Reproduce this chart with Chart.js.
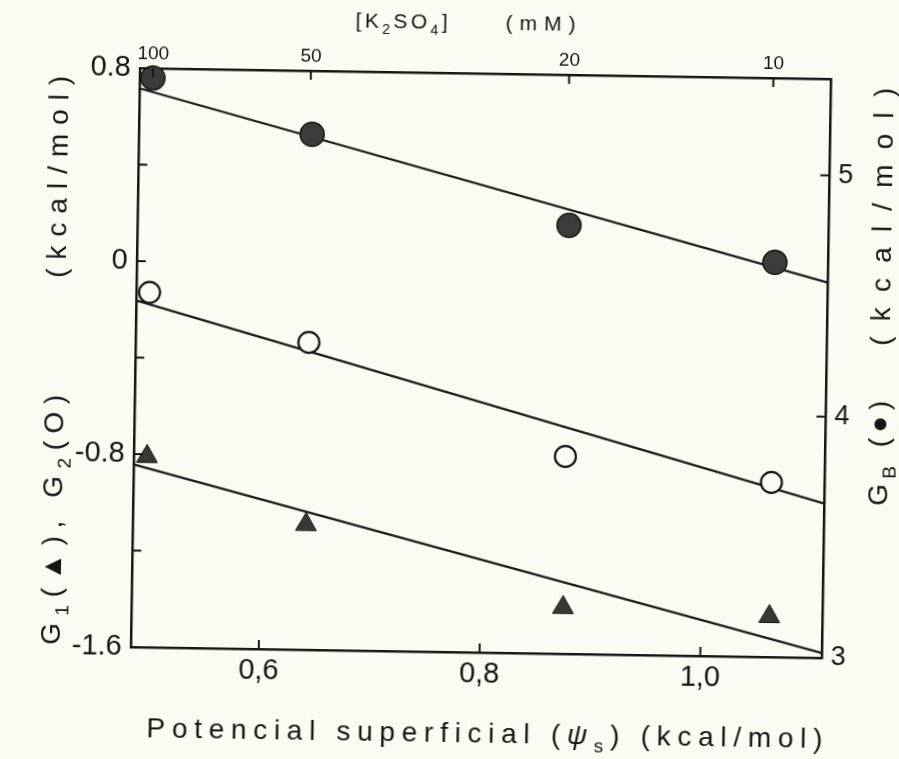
<!DOCTYPE html>
<html>
<head>
<meta charset="utf-8">
<script src="https://cdn.jsdelivr.net/npm/chart.js@4.4.1/dist/chart.umd.min.js"></script>
<style>
  html, body { margin: 0; padding: 0; background: #fbfaf3; overflow: hidden; }
  /* the printed figure sits slightly askew on the page */
  #wrap { width: 899px; height: 759px; transform: rotate(0.9deg); }
</style>
</head>
<body>
<div id="wrap"><canvas id="chart" width="899" height="759"></canvas></div>
<script>
const $ = id => document.getElementById(id);

const ink = '#161616';
const paper = '#fbfaf3';
const fontFamily = '"Liberation Sans", "DejaVu Sans", Arial, sans-serif';

// surface potential (kcal/mol) of the four K2SO4 solutions
const psi = [0.496, 0.641, 0.875, 1.062];
const gB = [5.36, 5.137, 4.776, 4.636];      // right axis, filled circles
const g2 = [-0.129, -0.326, -0.782, -0.876]; // left axis, open circles
const g1 = [-0.809, -1.081, -1.408, -1.432]; // left axis, triangles

// straight-line fits, given at both ends of the psi range
const fitPsi = [0.484, 1.11];
const gBFit = [5.316, 4.556];
const g2Fit = [-0.163, -0.960];
const g1Fit = [-0.843, -1.58];

// axes
const xMin = 0.484, xMax = 1.11;
const psiTicks = [0.6, 0.8, 1.0];
const concLabels = ['100', '50', '20', '10'];
const concPos = [0.496, 0.639, 0.873, 1.058];
const leftTicks = [0.8, 0.4, 0, -0.4, -0.8, -1.2, -1.6];
const rightTicks = [3, 4, 5];

const pts = (xs, ys) => xs.map((x, i) => ({x, y: ys[i]}));

function markers(label, data, axis, style) {
  return Object.assign({
    label, data, xAxisID: 'x', yAxisID: axis,
    showLine: false, clip: false, order: 1,
    borderColor: ink, pointBorderColor: ink
  }, style);
}

function fitLine(label, data, axis) {
  return {
    label, data, xAxisID: 'x', yAxisID: axis,
    showLine: true, pointRadius: 0, borderWidth: 2.2,
    borderColor: '#1c1c1c', clip: false, order: 2
  };
}

function setTicks(values) {
  return scale => { scale.ticks = values.map(v => ({value: v})); };
}

const tickFont = {family: fontFamily, size: 29};
const axisBorder = {display: true, color: ink, width: 2.5};

// paper colour behind everything
const paperBg = {
  id: 'paperBg',
  beforeDraw(chart) {
    const ctx = chart.ctx;
    ctx.save();
    ctx.fillStyle = paper;
    ctx.fillRect(0, 0, chart.width, chart.height);
    ctx.restore();
  }
};

// tick marks point into the plot on all four sides
const inwardTicks = {
  id: 'inwardTicks',
  afterDatasetsDraw(chart) {
    const {ctx, chartArea: a} = chart;
    const len = 9;
    ctx.save();
    ctx.strokeStyle = ink;
    ctx.lineWidth = 2;
    ['x', 'x2', 'y', 'y2'].forEach(id => {
      const s = chart.scales[id];
      s.ticks.forEach(t => {
        const p = s.getPixelForValue(t.value);
        ctx.beginPath();
        if (id === 'x') { ctx.moveTo(p, a.bottom); ctx.lineTo(p, a.bottom - len); }
        if (id === 'x2') { ctx.moveTo(p, a.top); ctx.lineTo(p, a.top + len); }
        if (id === 'y') { ctx.moveTo(a.left, p); ctx.lineTo(a.left + len, p); }
        if (id === 'y2') { ctx.moveTo(a.right, p); ctx.lineTo(a.right - len, p); }
        ctx.stroke();
      });
    });
    ctx.restore();
  }
};

// draws text runs (with subscripts) spread over a given length
function drawRuns(ctx, runs, x, y, angle, size, span) {
  const fontOf = r => (r.it ? 'italic ' : '') + Math.round(r.sub ? size * 0.68 : size) + 'px ' + fontFamily;
  const chars = [];
  runs.forEach(r => [...r.t].forEach(ch => chars.push({ch, r})));
  ctx.save();
  ctx.translate(x, y);
  ctx.rotate(angle);
  ctx.fillStyle = ink;
  ctx.textBaseline = 'alphabetic';
  let total = 0;
  chars.forEach(c => { ctx.font = fontOf(c.r); c.w = ctx.measureText(c.ch).width; total += c.w; });
  const gap = span ? (span - total) / (chars.length - 1) : 0;
  let cx = 0;
  chars.forEach(c => {
    ctx.font = fontOf(c.r);
    ctx.fillText(c.ch, cx, c.r.sub ? size * 0.3 : 0);
    cx += c.w + gap;
  });
  ctx.restore();
}

const axisTitles = {
  id: 'axisTitles',
  afterDraw(chart) {
    const ctx = chart.ctx;
    const up = -Math.PI / 2;
    // bottom
    drawRuns(ctx, [{t: 'Potencial superficial ('}, {t: 'ψ', it: true}, {t: 's', sub: true}, {t: ') (kcal/mol)'}],
      152, 742, 0, 28, 676);
    // top
    drawRuns(ctx, [{t: '[K'}, {t: '2', sub: true}, {t: 'SO'}, {t: '4', sub: true}, {t: ']'}], 350, 29, 0, 21, 92);
    drawRuns(ctx, [{t: '(mM)'}], 500, 29, 0, 21, 70);
    // left
    drawRuns(ctx, [{t: 'G'}, {t: '1', sub: true}, {t: '(▲), G'}, {t: '2', sub: true}, {t: '(O)'}], 64, 651, up, 28, 250);
    drawRuns(ctx, [{t: '(kcal/mol)'}], 64, 284, up, 28, 202);
    // right
    drawRuns(ctx, [{t: 'G'}, {t: 'B', sub: true}, {t: ' (●)'}], 889, 499, up, 28, 105);
    drawRuns(ctx, [{t: '(kcal/mol)'}], 889, 339, up, 28, 258);
  }
};

new Chart($('chart'), {
  type: 'scatter',
  data: {
    datasets: [
      markers('GB', pts(psi, gB), 'y2', {
        pointStyle: 'circle', pointRadius: 12, pointBackgroundColor: '#3c3c3c', pointBorderWidth: 1.5
      }),
      markers('G2', pts(psi, g2), 'y', {
        pointStyle: 'circle', pointRadius: 10.5, pointBackgroundColor: paper, pointBorderWidth: 2.2
      }),
      markers('G1', pts(psi, g1), 'y', {
        pointStyle: 'triangle', pointRadius: 12, pointBackgroundColor: '#383838', pointBorderWidth: 1
      }),
      fitLine('GB fit', pts(fitPsi, gBFit), 'y2'),
      fitLine('G2 fit', pts(fitPsi, g2Fit), 'y'),
      fitLine('G1 fit', pts(fitPsi, g1Fit), 'y')
    ]
  },
  options: {
    responsive: false,
    animation: false,
    devicePixelRatio: 1,
    layout: {padding: 0},
    plugins: {legend: {display: false}, tooltip: {enabled: false}},
    scales: {
      x: {
        type: 'linear', position: 'bottom', min: xMin, max: xMax,
        afterBuildTicks: setTicks(psiTicks),
        afterFit: s => { s.height = 107; },
        grid: {display: false, drawTicks: false},
        border: axisBorder,
        ticks: {
          font: tickFont, color: ink, padding: 5, maxRotation: 0, autoSkip: false,
          callback: v => v.toFixed(1).replace('.', ',')
        }
      },
      x2: {
        type: 'linear', position: 'top', min: xMin, max: xMax,
        afterBuildTicks: setTicks(concPos),
        afterFit: s => { s.height = 73; },
        grid: {display: false, drawTicks: false},
        border: axisBorder,
        ticks: {
          font: {family: fontFamily, size: 19}, color: ink, padding: 3, maxRotation: 0, autoSkip: false,
          callback: (v, i) => concLabels[i]
        }
      },
      y: {
        type: 'linear', position: 'left', min: -1.6, max: 0.8,
        afterBuildTicks: setTicks(leftTicks),
        afterFit: s => { s.width = 135; },
        grid: {display: false, drawTicks: false},
        border: axisBorder,
        ticks: {
          font: tickFont, color: ink, padding: 9, autoSkip: false,
          callback: v => {
            const k = v / 0.8;
            if (Math.abs(k - Math.round(k)) > 1e-6) return '';
            return Math.abs(v) < 1e-9 ? '0' : v.toFixed(1);
          }
        }
      },
      y2: {
        type: 'linear', position: 'right', min: 3, max: 5.4,
        afterBuildTicks: setTicks(rightTicks),
        afterFit: s => { s.width = 73; },
        grid: {display: false, drawTicks: false},
        border: axisBorder,
        ticks: {font: {family: fontFamily, size: 27}, color: ink, padding: 9, autoSkip: false, callback: v => String(v)}
      }
    }
  },
  plugins: [paperBg, inwardTicks, axisTitles]
});
</script>
</body>
</html>
